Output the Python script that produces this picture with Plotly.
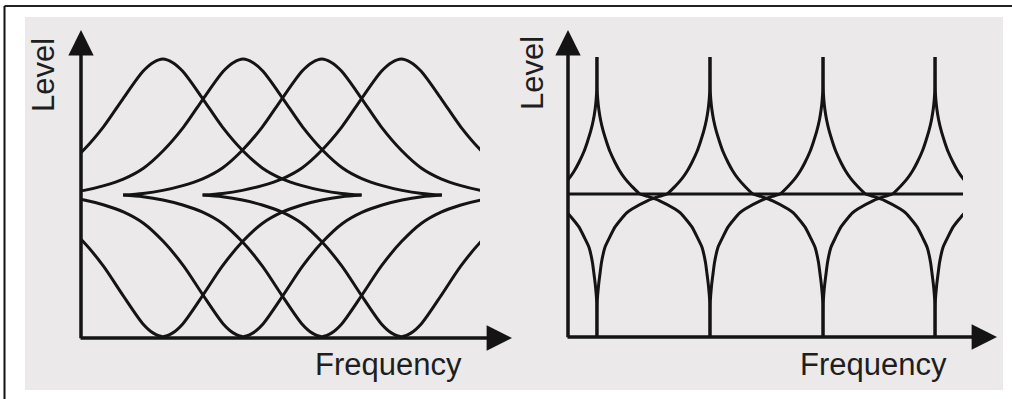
import plotly.graph_objects as go

W, H = 1012, 399

# ---------------- data ----------------
# Left panel: four resonance peaks / notches (x in "frequency" units, y in level units)
PEAK_CENTERS_L = [1.03, 2.04, 3.03, 4.03]
PEAK_LEVEL_L = 1.0
TROUGH_LEVEL_L = -1.04
# shared bell profile: offset from the centre -> relative height
PROFILE_OFFSET = [-2.5, -2.25, -2.0, -1.75, -1.5, -1.25, -1.0, -0.75, -0.5, -0.25, -0.12, 0.0,
                  0.12, 0.25, 0.5, 0.75, 1.0, 1.25, 1.5, 1.75, 2.0, 2.25, 2.5]
PROFILE_HEIGHT = [0.0, 0.012, 0.035, 0.07, 0.12, 0.2, 0.33, 0.5, 0.71, 0.91, 0.975, 1.0,
                  0.975, 0.91, 0.71, 0.5, 0.33, 0.2, 0.12, 0.07, 0.035, 0.012, 0.0]

# Right panel: comb of spikes, curves run from a top spike to the next bottom spike
SPIKES_R = [-0.745, 0.257, 1.26, 2.263, 3.257, 4.26]
CURVE_U = [0.0, 0.002, 0.007, 0.016, 0.032, 0.055, 0.085, 0.115, 0.16, 0.2, 0.25, 0.31, 0.38,
           0.45, 0.55, 0.69, 0.74, 0.84, 0.89, 0.93, 0.96, 0.973, 0.985, 0.994, 0.998, 1.0]
CURVE_LEVEL = [1.0, 0.76, 0.69, 0.62, 0.54, 0.46, 0.38, 0.31, 0.23, 0.17, 0.11, 0.055, 0.0,
               -0.018, -0.048, -0.11, -0.14, -0.24, -0.32, -0.39, -0.5, -0.58, -0.66, -0.74,
               -0.8, -1.044]
CENTER_LINE_X = [0.0, 3.505]
CENTER_LINE_Y = [0.0, 0.0]

X_LABEL = "Frequency"
Y_LABEL = "Level"

INK = "#141414"
LW = 3.0

fig = go.Figure()

# ---- left panel traces
for c in PEAK_CENTERS_L:
    xs = [c + d for d in PROFILE_OFFSET]
    fig.add_trace(go.Scatter(x=xs, y=[PEAK_LEVEL_L * h for h in PROFILE_HEIGHT],
                             mode="lines", line=dict(color=INK, width=LW, shape="spline", smoothing=0.8),
                             xaxis="x", yaxis="y", hoverinfo="skip", showlegend=False))
    fig.add_trace(go.Scatter(x=xs, y=[TROUGH_LEVEL_L * h for h in PROFILE_HEIGHT],
                             mode="lines", line=dict(color=INK, width=LW, shape="spline", smoothing=0.8),
                             xaxis="x", yaxis="y", hoverinfo="skip", showlegend=False))

# ---- right panel traces
for k in range(len(SPIKES_R) - 1):
    s0, s1 = SPIKES_R[k], SPIKES_R[k + 1]
    span = s1 - s0
    # falling curve: top spike s0 -> bottom spike s1
    fig.add_trace(go.Scatter(x=[s0 + u * span for u in CURVE_U], y=CURVE_LEVEL,
                             mode="lines", line=dict(color=INK, width=LW, shape="spline", smoothing=0.5),
                             xaxis="x2", yaxis="y2", hoverinfo="skip", showlegend=False))
    # rising curve: bottom spike s0 -> top spike s1 (mirror image)
    fig.add_trace(go.Scatter(x=[s1 - u * span for u in CURVE_U], y=CURVE_LEVEL,
                             mode="lines", line=dict(color=INK, width=LW, shape="spline", smoothing=0.5),
                             xaxis="x2", yaxis="y2", hoverinfo="skip", showlegend=False))
fig.add_trace(go.Scatter(x=CENTER_LINE_X, y=CENTER_LINE_Y, mode="lines",
                         line=dict(color=INK, width=3.2), xaxis="x2", yaxis="y2",
                         hoverinfo="skip", showlegend=False))


def px_x(p):
    return p / W


def px_y(p):
    return 1 - p / H


hidden = dict(visible=False, fixedrange=True)
fig.update_layout(
    width=W, height=H,
    margin=dict(l=0, r=0, t=0, b=0),
    paper_bgcolor="white",
    plot_bgcolor="rgba(0,0,0,0)",
    xaxis=dict(domain=[px_x(81), px_x(480)], range=[0, 5.02], **hidden),
    yaxis=dict(domain=[px_y(338), px_y(40)], range=[-1.05, 1.14], **hidden),
    xaxis2=dict(domain=[px_x(568), px_x(963)], range=[0, 3.505], anchor="y2", **hidden),
    yaxis2=dict(domain=[px_y(337), px_y(40)], range=[-1.044, 1.124], anchor="x2", **hidden),
)

shapes = [
    # textured gray panel background
    dict(type="rect", xref="paper", yref="paper", x0=px_x(25), x1=px_x(1003),
         y0=px_y(390), y1=px_y(17), fillcolor="#ebe9e9", line=dict(width=0), layer="below"),
    # outer frame (top and left edges visible)
    dict(type="line", xref="paper", yref="paper", x0=px_x(4.5), x1=1.01, y0=px_y(6), y1=px_y(6),
         line=dict(color="#222222", width=2), layer="below"),
    dict(type="line", xref="paper", yref="paper", x0=px_x(4.5), x1=px_x(4.5), y0=-0.01, y1=px_y(6),
         line=dict(color="#111111", width=2), layer="below"),
]
fig.update_layout(shapes=shapes)

annotations = []
for xa, ya, xtip, ytip in [("x", "y", (512 - 81) / 399, (338 - 30) / 298),
                           ("x2", "y2", (997 - 568) / 395, (337 - 30) / 297)]:
    xr, yr = xa + " domain", ya + " domain"
    # vertical axis arrow
    annotations.append(dict(xref=xr, yref=yr, axref=xr, ayref=yr, x=0, y=ytip, ax=0, ay=-0.006,
                            text="", showarrow=True, arrowhead=2, arrowsize=1.45, arrowwidth=3.5,
                            arrowcolor=INK, standoff=0, startstandoff=0))
    # horizontal axis arrow
    annotations.append(dict(xref=xr, yref=yr, axref=xr, ayref=yr, x=xtip, y=0, ax=-0.005, ay=0,
                            text="", showarrow=True, arrowhead=2, arrowsize=1.45, arrowwidth=3.5,
                            arrowcolor=INK, standoff=0, startstandoff=0))

FONT = dict(family="Liberation Sans, Arial, sans-serif", size=31, color="#1e1e1e")
for cx, cy in [(43, 75), (533, 73)]:
    annotations.append(dict(xref="paper", yref="paper", x=px_x(cx), y=px_y(cy), text=Y_LABEL,
                            textangle=-90, showarrow=False, font=FONT,
                            xanchor="center", yanchor="middle"))
for cx, cy in [(388, 364), (873, 364)]:
    annotations.append(dict(xref="paper", yref="paper", x=px_x(cx), y=px_y(cy), text=X_LABEL,
                            showarrow=False, font=FONT, xanchor="center", yanchor="middle"))
fig.update_layout(annotations=annotations)

# remove the page's default body margin so the figure sits at the window origin
fig.write_html("out.html", config={"displayModeBar": False},
               post_script="document.body.style.margin='0';")
